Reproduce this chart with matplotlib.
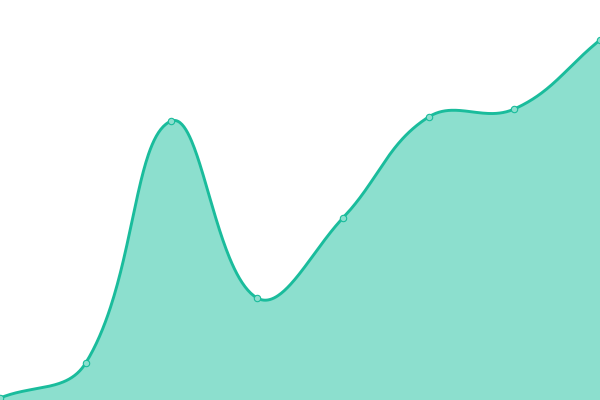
import numpy as np
import matplotlib
matplotlib.use("Agg")
import matplotlib.pyplot as plt

# Series values (height above the bottom edge, chart units)
x_vals = [0, 1, 2, 3, 4, 5, 6, 7]
y_vals = [2, 37, 279, 102, 182, 283, 291, 360]

LINE = "#1abc9c"
FILL = "#8cdfce"

W, H = 600, 400
X_MAX, Y_MAX = 7, 400


def spline(xs, ys, tension=0.4, n=80):
    """Smooth path through the points, tangents scaled by segment lengths.
    Worked out in pixel space so the curve bends like the reference."""
    sx_scale = W / X_MAX
    sy_scale = H / Y_MAX
    pts = np.column_stack([np.asarray(xs, float) * sx_scale,
                           np.asarray(ys, float) * sy_scale])
    m = len(pts)
    cp_prev = np.zeros_like(pts)
    cp_next = np.zeros_like(pts)
    for i in range(m):
        prev = pts[max(i - 1, 0)]
        cur = pts[i]
        nxt = pts[min(i + 1, m - 1)]
        d01 = np.hypot(*(cur - prev))
        d12 = np.hypot(*(nxt - cur))
        tot = d01 + d12
        s01 = d01 / tot if tot else 0
        s12 = d12 / tot if tot else 0
        cp_prev[i] = cur - tension * s01 * (nxt - prev)
        cp_next[i] = cur + tension * s12 * (nxt - prev)
    t = np.linspace(0, 1, n)[:, None]
    out = []
    for i in range(m - 1):
        p0, c1, c2, p1 = pts[i], cp_next[i], cp_prev[i + 1], pts[i + 1]
        seg = ((1 - t) ** 3 * p0 + 3 * (1 - t) ** 2 * t * c1
               + 3 * (1 - t) * t ** 2 * c2 + t ** 3 * p1)
        out.append(seg)
    out = np.vstack(out)
    return out[:, 0] / sx_scale, out[:, 1] / sy_scale


sx, sy = spline(x_vals, y_vals)

fig = plt.figure(figsize=(6, 4), dpi=100)
ax = fig.add_axes([0, 0, 1, 1])
ax.fill_between(sx, sy, 0, color=FILL, linewidth=0)
ax.plot(sx, sy, color=LINE, linewidth=2.1, solid_capstyle="round")
ax.plot(x_vals, y_vals, "o", markersize=4.6, markerfacecolor=FILL,
        markeredgecolor=LINE, markeredgewidth=0.8, clip_on=False)
ax.set_xlim(0, X_MAX)
ax.set_ylim(0, Y_MAX)
ax.axis("off")
fig.savefig("out.png", dpi=100, facecolor="white")
